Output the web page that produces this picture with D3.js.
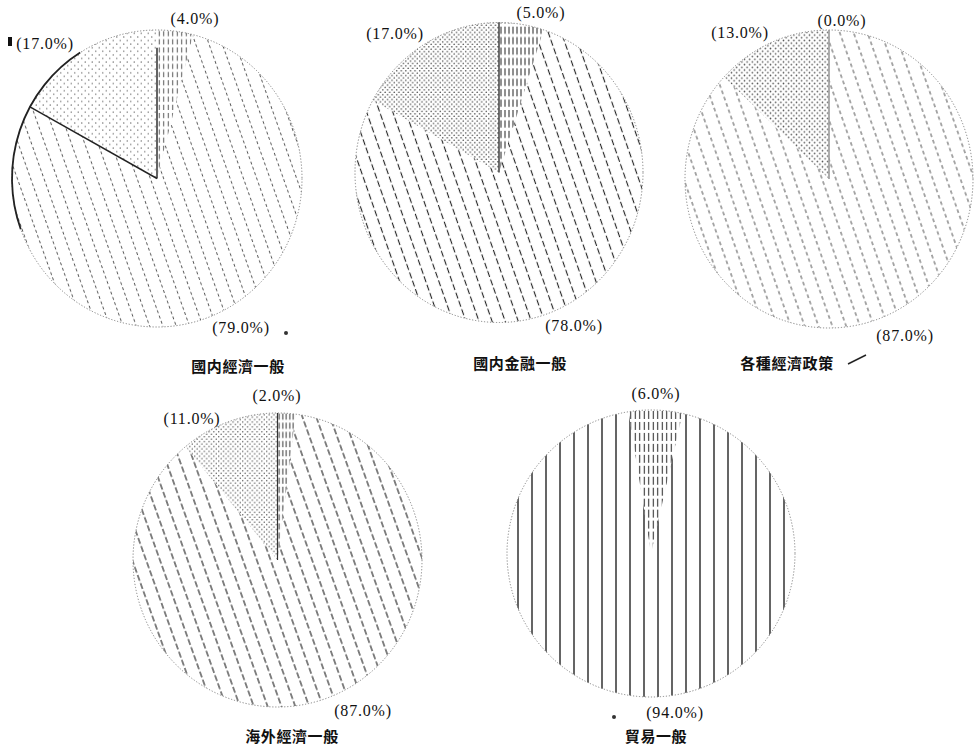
<!DOCTYPE html>
<html><head><meta charset="utf-8">
<script src="https://cdn.jsdelivr.net/npm/d3@7"></script>
<style>body{margin:0;background:#fff} svg{display:block}</style>
</head><body>
<svg id="c" width="980" height="747"></svg>
<script>
// ---- data ----
const titles = ["國内經濟一般", "國内金融一般", "各種經濟政策", "海外經濟一般", "貿易一般"];
const smallShare  = [4.0, 5.0, 0.0, 2.0, 6.0];
const mainShare   = [79.0, 78.0, 87.0, 87.0, 94.0];
const dottedShare = [17.0, 17.0, 13.0, 11.0, 0.0];

// ---- layout (positions only) ----
const layout = [
  {cx:157,   cy:178.5, rx:145,   ry:148.5, rot:0,  small:[195,18],  dotted:[45,43],  main:[241,327], title:[238,365]},
  {cx:499,   cy:172.5, rx:144,   ry:150,   rot:0,  small:[541,12],  dotted:[395,33], main:[574,325], title:[520,362]},
  {cx:829,   cy:179,   rx:144,   ry:149,   rot:0,  small:[842,20],  dotted:[740,32], main:[905,335], title:[787,362]},
  {cx:277.5, cy:560,   rx:144.5, ry:147,   rot:0,  small:[277,395], dotted:[192,418],main:[363,710], title:[292,735]},
  {cx:651,   cy:553.5, rx:144,   ry:143.5, rot:-9, small:[656,393], dotted:null,     main:[675,712], title:[656,735]}
];
// ---- styles ----
const styles = [
  {hatch:{sp:12.5, ang:-20, col:"#5a5a5a", w:1.0, dash:[3,2.5]}, dots:{sp:7, r:0.75, col:"#777"}, small:{sp:4.5, col:"#555", dash:[5,3]}, edge:"#222", edgeW:1.4},
  {hatch:{sp:12.3, ang:-20, col:"#222",    w:1.1, dash:[6,2.5]}, dots:{sp:4.6, r:0.8, col:"#555"}, small:{sp:4,   col:"#222", dash:[7,3]}, edge:"#222", edgeW:1.3},
  {hatch:{sp:13,   ang:-20, col:"#555",    w:1.0, dash:[3.5,3]}, dots:{sp:5.2, r:0.8, col:"#555"}, small:{sp:4,   col:"#555", dash:[5,3]}, edge:"#999", edgeW:1.6},
  {hatch:{sp:13,   ang:-20, col:"#222",    w:1.1, dash:[6,2.5]}, dots:{sp:4.8, r:0.75,col:"#555"}, small:{sp:3.5, col:"#333", dash:[6,3]}, edge:"#333", edgeW:1.2},
  {hatch:{sp:14,   ang:0,   col:"#111",    w:1.3, dash:null},    dots:{sp:5, r:0.8, col:"#555"},   small:{sp:4.5, col:"#222", dash:[8,3]}, edge:null,   edgeW:0}
];

const svg = d3.select("#c");
const defs = svg.append("defs");

function linePattern(id, s) {
  const period = s.dash ? (s.dash[0] + s.dash[1]) : 10;
  const h = period * 8;
  const p = defs.append("pattern").attr("id", id)
    .attr("patternUnits", "userSpaceOnUse")
    .attr("width", s.sp).attr("height", h)
    .attr("patternTransform", `rotate(${s.ang || 0})`);
  p.append("line").attr("x1", s.sp / 2).attr("x2", s.sp / 2).attr("y1", 0).attr("y2", h)
    .attr("stroke", s.col).attr("stroke-width", s.w || 1)
    .attr("stroke-dasharray", s.dash ? s.dash.join(",") : null);
}
function dotPattern(id, s) {
  const p = defs.append("pattern").attr("id", id)
    .attr("patternUnits", "userSpaceOnUse")
    .attr("width", s.sp).attr("height", s.sp)
    .attr("patternTransform", "rotate(0)");
  p.append("circle").attr("cx", s.sp / 4).attr("cy", s.sp / 4).attr("r", s.r).attr("fill", s.col);
  p.append("circle").attr("cx", 3 * s.sp / 4).attr("cy", 3 * s.sp / 4).attr("r", s.r).attr("fill", s.col);
}

const pie = d3.pie().sort(null).value(d => d.v);
const fmt = v => `(${v.toFixed(1)}%)`;

titles.forEach((t, i) => {
  const L = layout[i], S = styles[i];
  linePattern(`hatch${i}`, S.hatch);
  dotPattern(`dots${i}`, S.dots);
  linePattern(`small${i}`, {sp: S.small.sp, ang: 0, col: S.small.col, w: 1, dash: S.small.dash});

  const data = [
    {k: "small",  v: smallShare[i]},
    {k: "main",   v: mainShare[i]},
    {k: "dotted", v: dottedShare[i]}
  ];
  const off = L.rot * Math.PI / 180;
  const arcs = pie.startAngle(off).endAngle(off + 2 * Math.PI)(data);
  const r = L.rx;
  const arc = d3.arc().innerRadius(0).outerRadius(r);

  const g = svg.append("g")
    .attr("transform", `translate(${L.cx},${L.cy}) scale(1,${L.ry / L.rx})`);

  g.selectAll("path.slice").data(arcs.filter(a => a.data.v > 0)).join("path")
    .attr("class", "slice")
    .attr("d", arc)
    .attr("fill", a => a.data.k === "main" ? `url(#hatch${i})` : a.data.k === "dotted" ? `url(#dots${i})` : `url(#small${i})`)
    .attr("stroke", "none");

  // outline
  g.append("circle").attr("r", r).attr("fill", "none")
    .attr("stroke", "#777").attr("stroke-width", 0.9)
    .attr("stroke-dasharray", "1.2,1.8");

  // radial edge at the start of the small slice
  if (S.edge) {
    const a0 = arcs[0].startAngle;
    g.append("line")
      .attr("x1", 0).attr("y1", 0)
      .attr("x2", r * Math.sin(a0) * (i === 0 ? 0.88 : 1)).attr("y2", -r * Math.cos(a0) * (i === 0 ? 0.88 : 1))
      .attr("stroke", S.edge).attr("stroke-width", S.edgeW);
  }
  // pie 1: solid edge between dotted and main slice, and a solid part of the rim
  if (i === 0) {
    const a1 = arcs[2].startAngle;
    g.append("line").attr("x1", 0).attr("y1", 0)
      .attr("x2", r * Math.sin(a1)).attr("y2", -r * Math.cos(a1))
      .attr("stroke", "#222").attr("stroke-width", 1.4);
    g.append("path")
      .attr("d", d3.arc().innerRadius(r).outerRadius(r).startAngle(-110 * Math.PI / 180).endAngle(-32 * Math.PI / 180)())
      .attr("fill", "none").attr("stroke", "#222").attr("stroke-width", 1.8);
  }

  // labels
  const lab = (pos, v) => svg.append("text")
    .attr("x", pos[0]).attr("y", pos[1])
    .attr("text-anchor", "middle").attr("dominant-baseline", "central")
    .attr("font-family", "'Liberation Serif','DejaVu Serif',serif")
    .attr("font-size", 16).attr("letter-spacing", 0.8).attr("fill", "#111")
    .text(fmt(v));
  lab(L.small, smallShare[i]);
  if (L.dotted) lab(L.dotted, dottedShare[i]);
  lab(L.main, mainShare[i]);

  svg.append("text")
    .attr("x", L.title[0]).attr("y", L.title[1])
    .attr("text-anchor", "middle").attr("dominant-baseline", "central")
    .attr("font-family", "'Noto Sans CJK TC','Noto Sans CJK JP',sans-serif")
    .attr("font-weight", 700).attr("font-size", 15).attr("letter-spacing", 0.6)
    .attr("fill", "#111")
    .text(t);
});

// scan marks
svg.append("rect").attr("x", 8).attr("y", 37).attr("width", 4).attr("height", 9).attr("fill", "#111");
svg.append("line").attr("x1", 848).attr("y1", 364).attr("x2", 866).attr("y2", 355).attr("stroke", "#222").attr("stroke-width", 1.5);
svg.append("circle").attr("cx", 286).attr("cy", 333).attr("r", 2).attr("fill", "#333");
svg.append("circle").attr("cx", 614).attr("cy", 717).attr("r", 2).attr("fill", "#333");
</script>
</body></html>
